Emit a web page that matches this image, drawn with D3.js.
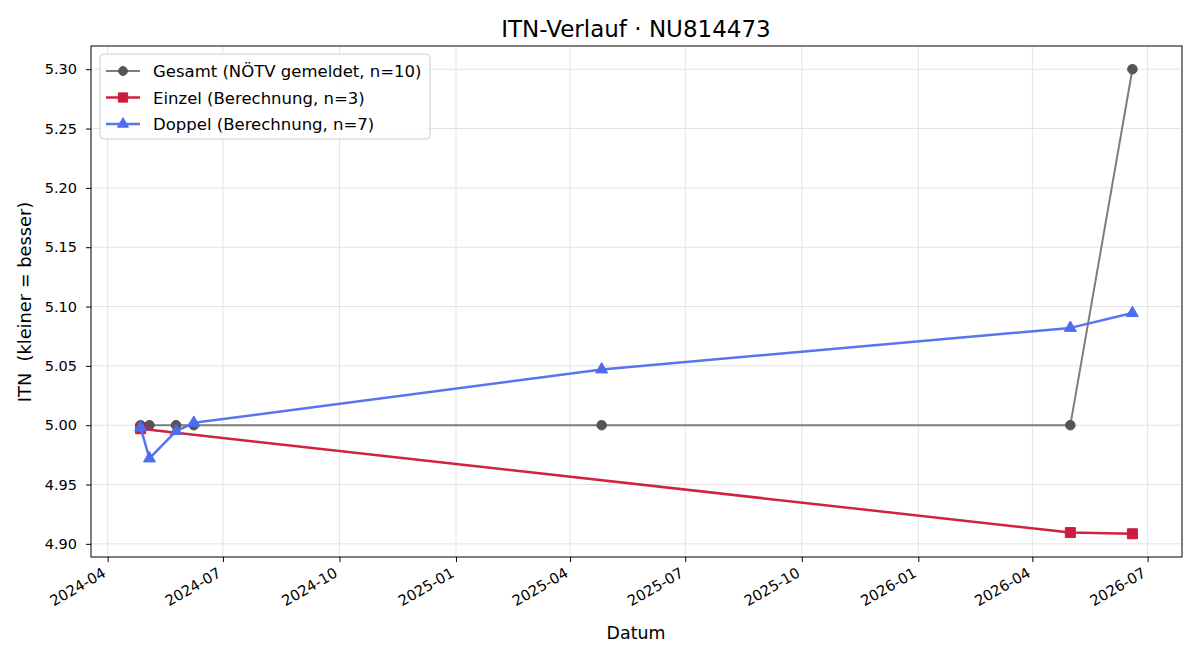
<!DOCTYPE html>
<html><head><meta charset="utf-8">
<script src="https://cdn.jsdelivr.net/npm/d3@7"></script>
<style>body{margin:0;background:#fff}svg,svg text{font-family:"DejaVu Sans",sans-serif}</style>
</head><body><svg id="c" width="1200" height="660"></svg>
<script>
const gesamtDates = ["2024-04-27","2024-05-04","2024-05-25","2024-06-08","2025-04-26","2026-05-01","2026-06-19"];
const gesamtValues = [5.00,5.00,5.00,5.00,5.00,5.00,5.30];
const einzelDates = ["2024-04-27","2026-05-01","2026-06-19"];
const einzelValues = [4.997,4.9095,4.9085];
const doppelDates = ["2024-04-27","2024-05-04","2024-05-25","2024-06-08","2025-04-26","2026-05-01","2026-06-19"];
const doppelValues = [4.998,4.972,4.995,5.002,5.047,5.082,5.0945];
const yTicks = [4.90,4.95,5.00,5.05,5.10,5.15,5.20,5.25,5.30];
const xTicks = ["2024-04","2024-07","2024-10","2025-01","2025-04","2025-07","2025-10","2026-01","2026-04","2026-07"];
const legendLabels = ["Gesamt (NÖTV gemeldet, n=10)","Einzel (Berechnung, n=3)","Doppel (Berechnung, n=7)"];

const FONT = '"DejaVu Sans", sans-serif';
const parse = d3.utcParse("%Y-%m-%d");
const parseM = d3.utcParse("%Y-%m");
const svg = d3.select("#c");
const L=91,R=1182,T=46,B=557;

const allDates = gesamtDates.concat(einzelDates, doppelDates).map(parse);
const ext = d3.extent(allDates);
const span = ext[1]-ext[0];
const x = d3.scaleUtc().domain([new Date(+ext[0]-span*0.05), new Date(+ext[1]+span*0.05)]).range([L,R]);
const allV = gesamtValues.concat(einzelValues, doppelValues);
const ve = d3.extent(allV); const vs = ve[1]-ve[0];
const y = d3.scaleLinear().domain([ve[0]-vs*0.05, ve[1]+vs*0.05]).range([B,T]);

// grid
const g = svg.append("g");
g.selectAll(".gy").data(yTicks).join("line").attr("x1",L).attr("x2",R)
 .attr("y1",d=>y(d)).attr("y2",d=>y(d)).attr("stroke","#e3e3e3").attr("stroke-width",1);
g.selectAll(".gx").data(xTicks).join("line").attr("y1",T).attr("y2",B)
 .attr("x1",d=>x(parseM(d))).attr("x2",d=>x(parseM(d))).attr("stroke","#e3e3e3").attr("stroke-width",1);

// axes
const ax = svg.append("g").attr("transform",`translate(0,${B})`)
 .call(d3.axisBottom(x).tickValues(xTicks.map(parseM)).tickFormat(d3.utcFormat("%Y-%m")).tickSize(5).tickSizeOuter(0));
ax.attr("font-family",FONT).attr("font-size",14.7);
ax.selectAll("text").attr("font-size",14.7).attr("fill","#000").attr("text-anchor","end")
 .attr("x",0).attr("y",0).attr("dx",0).attr("dy","0.78em").attr("transform","translate(-7,9) rotate(-30)");
const ay = svg.append("g").attr("transform",`translate(${L},0)`)
 .call(d3.axisLeft(y).tickValues(yTicks).tickFormat(d3.format(".2f")).tickSize(5).tickSizeOuter(0));
ay.attr("font-family",FONT).attr("font-size",14.5);
ay.selectAll("text").attr("font-size",14.5).attr("fill","#000").attr("dx",-6);
svg.selectAll(".domain").remove();
svg.selectAll(".tick line").attr("stroke","#000");
svg.append("rect").attr("x",L).attr("y",T).attr("width",R-L).attr("height",B-T)
 .attr("fill","none").attr("stroke","#000").attr("stroke-width",1);

const line = d3.line().x(d=>x(d[0])).y(d=>y(d[1]));
function series(dates, vals, color, mcolor, w, marker, sz){
  const pts = dates.map((d,i)=>[parse(d), vals[i]]);
  svg.append("path").datum(pts).attr("d",line).attr("fill","none").attr("stroke",color).attr("stroke-width",w).attr("stroke-linejoin","round");
  svg.append("g").selectAll("path").data(pts).join("path")
   .attr("transform",d=>`translate(${x(d[0])},${y(d[1])})`)
   .attr("d",d3.symbol().type(marker).size(sz)).attr("fill",mcolor).attr("stroke",mcolor).attr("stroke-width",1);
}
const styles = [["#7d7d7d","#555555",2,d3.symbolCircle,72],["#d0213f","#cb1c3d",2.5,d3.symbolSquare,100],["#5874f0","#4f6cf0",2.5,d3.symbolTriangle,62]];
series(gesamtDates,gesamtValues,...styles[0]);
series(einzelDates,einzelValues,...styles[1]);
series(doppelDates,doppelValues,...styles[2]);

// title & labels
svg.append("text").attr("x",636).attr("y",37).attr("text-anchor","middle").attr("font-size",23).text("ITN-Verlauf · NU814473");
svg.append("text").attr("x",636).attr("y",639).attr("text-anchor","middle").attr("font-size",17.4).text("Datum");
svg.append("text").attr("transform","translate(31,302) rotate(-90)").attr("text-anchor","middle").attr("font-size",17.8)
 .style("white-space","pre").text("ITN  (kleiner = besser)");

// legend
const lg = svg.append("g");
lg.append("rect").attr("x",100).attr("y",54).attr("width",330).attr("height",85).attr("rx",4)
 .attr("fill","#fff").attr("fill-opacity",0.85).attr("stroke","#cccccc");
legendLabels.forEach((t,i)=>{
  const yy = 71+i*26.5, s = styles[i];
  lg.append("line").attr("x1",106).attr("x2",140).attr("y1",yy).attr("y2",yy).attr("stroke",s[0]).attr("stroke-width",s[2]);
  lg.append("path").attr("transform",`translate(123,${yy})`).attr("d",d3.symbol().type(s[3]).size(s[4]*0.85)).attr("fill",s[1]).attr("stroke",s[1]);
  lg.append("text").attr("x",153).attr("y",yy+6).attr("font-size",16.5).text(t);
});
</script></body></html>
